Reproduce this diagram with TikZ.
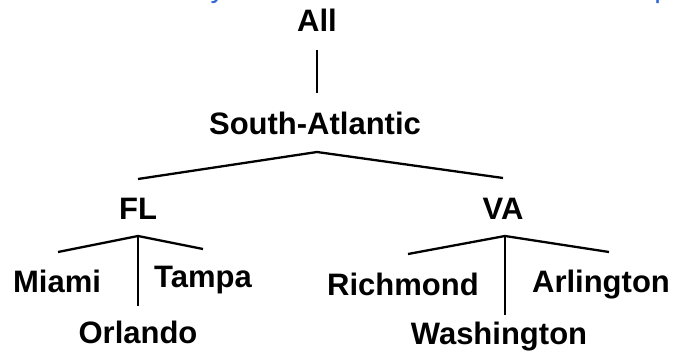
\documentclass[tikz,border=0pt]{standalone}
\usepackage{fontspec}
\setmainfont{Liberation Sans}
\begin{document}
\begin{tikzpicture}[x=1pt,y=-1pt,
  lbl/.style={font=\fontsize{31}{31}\selectfont\bfseries, inner sep=0pt, anchor=base},
  branch/.style={line width=2.3pt, line join=miter},
  title/.style={font=\fontsize{29.5}{29.5}\selectfont, text=titleblue, inner sep=0pt, anchor=base west}]
\definecolor{titleblue}{RGB}{51,102,214}
\useasboundingbox (0,0) rectangle (681,361);

% heading line, mostly above the page edge
\node[title] (head) at (99,-2) {Hierarchy for the location dimension: roll-up};

% levels of the location hierarchy
\node[lbl] (all) at (317,32) {All};
\node[lbl] (sa)  at (315,135) {South-Atlantic};
\node[lbl] (fl)  at (138,219) {FL};
\node[lbl] (va)  at (503,219) {VA};
\node[lbl] (miami)   at (57,292)  {Miami};
\node[lbl] (tampa)   at (203,287) {Tampa};
\node[lbl] (orlando) at (138,343) {Orlando};
\node[lbl] (richmond)   at (403,295) {Richmond};
\node[lbl] (arlington)  at (601,292) {Arlington};
\node[lbl] (washington) at (499,344) {Washington};

% branch points
\coordinate (allTop) at (317,50);
\coordinate (allBot) at (317,93);
\coordinate (saFork) at (317,152);
\coordinate (saL) at (138,179);
\coordinate (saR) at (503,178);
\coordinate (flFork) at (138,236);
\coordinate (flL) at (58,252);
\coordinate (flR) at (203,249);
\coordinate (flD) at (138,306);
\coordinate (vaFork) at (505,236);
\coordinate (vaL) at (408,254);
\coordinate (vaR) at (609,252);
\coordinate (vaD) at (505,315);

% connectors
\draw[branch] (allTop) -- (allBot);
\draw[branch] (saL) -- (saFork) -- (saR);
\draw[branch] (flL) -- (flFork) -- (flR);
\draw[branch] (flFork) -- (flD);
\draw[branch] (vaL) -- (vaFork) -- (vaR);
\draw[branch] (vaFork) -- (vaD);
\end{tikzpicture}
\end{document}
